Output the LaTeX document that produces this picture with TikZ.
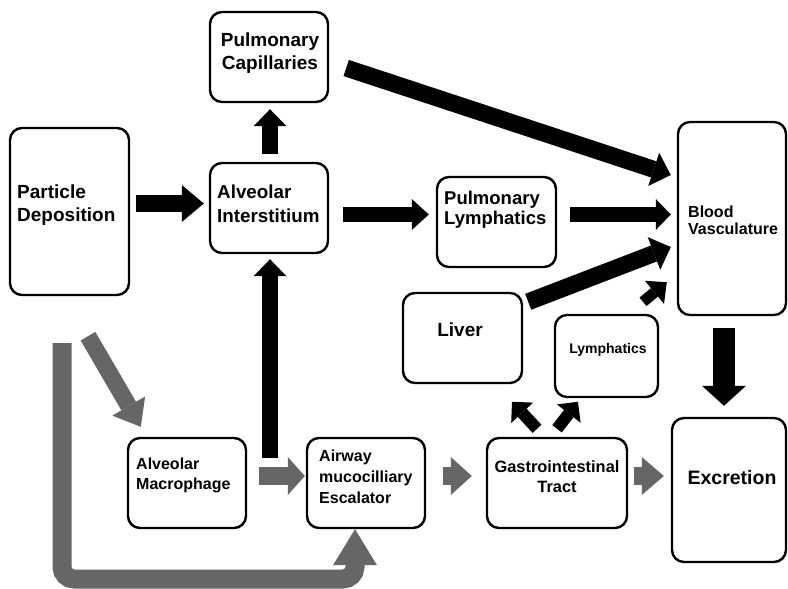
\documentclass[tikz,border=0pt]{standalone}
\usepackage{fontspec}
\setmainfont{Liberation Sans}
\usetikzlibrary{arrows.meta,calc}
\definecolor{arrgray}{RGB}{102,102,102}
\begin{document}
\begin{tikzpicture}[x=1pt,y=-1pt,
  box/.style={draw, line width=2.4pt, rounded corners=12pt, inner sep=0pt, minimum width=118pt, minimum height=90pt},
  lbl/.style={inner sep=0pt, align=left},
  fs/.style 2 args={font=\bfseries\fontsize{#1}{#2}\selectfont},
  barrow/.style n args={4}{draw=#4, line width=#1, -{Triangle[length=#2, width=#3, line width=0pt, color=#4]}},
]
\useasboundingbox (0,0) rectangle (788,589);
\fill[white] (0,0) rectangle (788,589);

% boxes
\node[box] (pc) at (269,57) {};
\node[box, minimum width=119pt, minimum height=167pt] (pd) at (69.5,211.5) {};
\node[box] (ai) at (269,208) {};
\node[box, minimum width=119pt] (pl) at (496.5,222) {};
\node[box, minimum width=108pt, minimum height=193pt] (bv) at (732,218.5) {};
\node[box, minimum width=119pt] (lv) at (462.5,338) {};
\node[box, minimum width=103pt, minimum height=82pt] (ly) at (606.5,356) {};
\node[box, minimum width=140pt] (gi) at (557,483) {};
\node[box, minimum width=114pt, minimum height=144pt] (ex) at (729,490) {};
\node[box] (am) at (187,483) {};
\node[box] (ae) at (366,483) {};

% texts
\node[lbl, fs={19}{23}, align=center] (pct) at (270,53) {Pulmonary\\Capillaries};
\node[lbl, fs={19}{23}, anchor=west] (pdt) at (17,205) {Particle\\Deposition};
\node[lbl, fs={18.8}{24}, anchor=west] (ait) at (217,204) {Alveolar\\Interstitium};
\node[lbl, fs={18.5}{20}, anchor=west] (plt) at (444,210) {Pulmonary\\Lymphatics};
\node[lbl, fs={16}{17}, anchor=west] (bvt) at (688,220) {Blood\\Vasculature};
\node[lbl, fs={19}{23}] (lvt) at (460,330) {Liver};
\node[lbl, fs={14}{16}] (lyt) at (608,350) {Lymphatics};
\node[lbl, fs={16.4}{20}, align=center] (git) at (557,477) {Gastrointestinal\\Tract};
\node[lbl, fs={19.5}{23}] (ext) at (732,478) {Excretion};
\node[lbl, fs={16}{20}, anchor=west] (amt) at (136,475) {Alveolar\\Macrophage};
\node[lbl, fs={16}{21}, anchor=west] (aet) at (319,477) {Airway\\mucocilliary\\Escalator};

% black arrows
\draw[barrow={17pt}{22pt}{37pt}{black}] ($(pd.east |- 0,203.5)+(6,0)$) -- ($(ai.west |- 0,203.5)+(-5,0)$);
\draw[barrow={16pt}{17pt}{33pt}{black}] ($(ai.north)+(1,-8)$) -- ($(pc.south)+(1,6)$);
\coordinate (aistart) at (270,458);
\draw[barrow={16pt}{17pt}{33pt}{black}] (aistart) -- ($(ai.south)+(1,5)$);
\draw[barrow={15pt}{17pt}{31pt}{black}] ($(ai.east |- 0,214.5)+(14,0)$) -- ($(pl.west |- 0,214.5)+(-7,0)$);
\draw[barrow={15pt}{15pt}{31pt}{black}] ($(pl.east |- 0,214.5)+(13,0)$) -- ($(bv.west |- 0,214.5)+(-6,0)$);
\draw[barrow={17pt}{18pt}{35pt}{black}] ($(pc.east)+(17,11)$) -- ($(bv.west)+(-6,-43.5)$);
\draw[barrow={17pt}{18pt}{35pt}{black}] ($(lv.north east)+(5,10)$) -- ($(bv.west)+(-6,28.5)$);
\draw[barrow={11pt}{16pt}{30pt}{black}] ($(ly.north)+(36.5,-12)$) -- ($(bv.south west)+(-10,-34)$);
\draw[barrow={22pt}{20pt}{44pt}{black}] ($(bv.south)+(-8,12)$) -- ($(ex.north)+(-5,-11)$);
\draw[barrow={12pt}{15pt}{30pt}{black}] ($(gi.north)+(-20,-8)$) -- ($(gi.north)+(-45,-35)$);
\draw[barrow={12pt}{15pt}{30pt}{black}] ($(gi.north)+(0,-8)$) -- ($(gi.north)+(21,-35)$);

% gray arrows
\draw[barrow={17pt}{24pt}{38pt}{arrgray}] ($(pd.south)+(18.5,40)$) -- ($(am.north west)+(14,-10)$);
\draw[barrow={18pt}{17pt}{38pt}{arrgray}] ($(am.east |- 0,476)+(12,0)$) -- ($(ae.west |- 0,476)+(-1,0)$);
\draw[barrow={18pt}{21pt}{38pt}{arrgray}] ($(ae.east |- 0,476)+(17,0)$) -- ($(gi.west |- 0,476)+(-14,0)$);
\draw[barrow={18pt}{22pt}{38pt}{arrgray}] ($(gi.east |- 0,476)+(6,0)$) -- ($(ex.west |- 0,476)+(-7,0)$);
\draw[barrow={19pt}{36pt}{44pt}{arrgray}, rounded corners=12pt] ($(pd.south)+(-7.5,47)$) |- (355,579) -- ($(ae.south)+(-11,0)$);
\end{tikzpicture}
\end{document}
